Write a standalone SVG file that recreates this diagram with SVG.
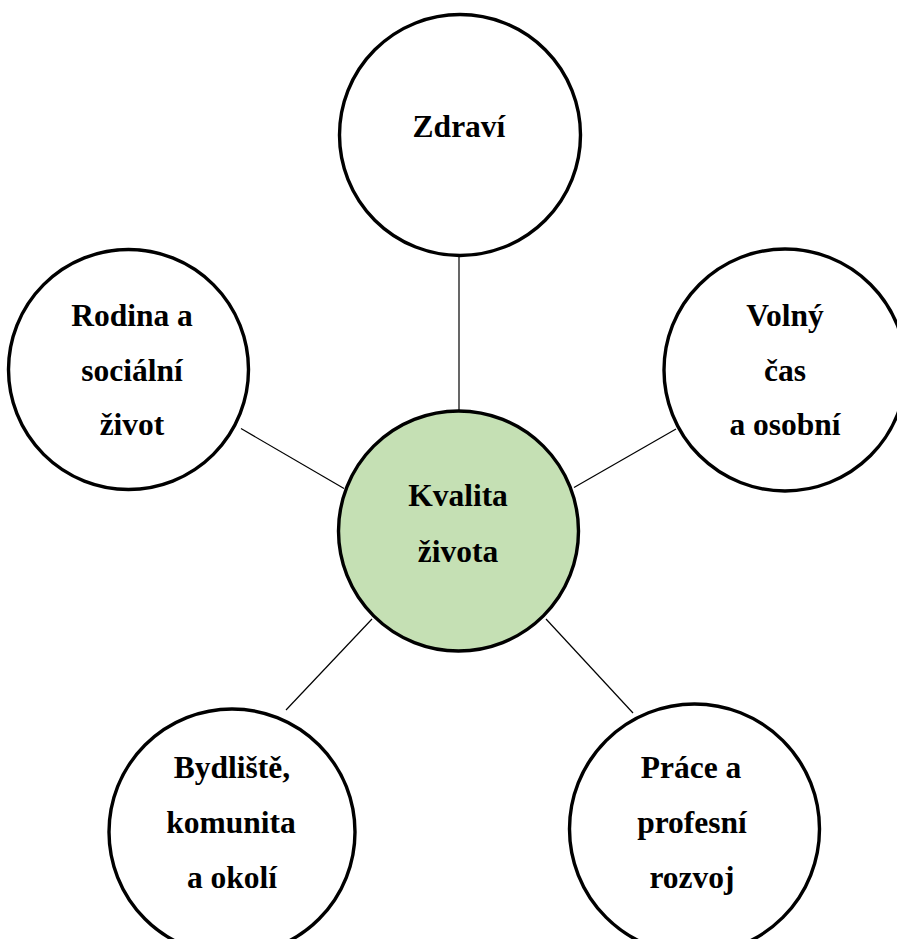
<svg xmlns="http://www.w3.org/2000/svg" width="897" height="939" viewBox="0 0 897 939">
  <style>
    .node { fill: #ffffff; stroke: #000000; stroke-width: 3.4; }
    .center { fill: #c5e0b4; stroke: #000000; stroke-width: 3.4; }
    .lbl { font-family: "Liberation Serif", "Times New Roman", serif; font-weight: bold; font-size: 31.5px; fill: #000000; text-anchor: middle; }
    .conn line { stroke: #000000; stroke-width: 1.2; }
  </style>
  <rect width="897" height="939" fill="#ffffff"/>
  <g id="connectors" class="conn">
    <line x1="459" y1="257" x2="459" y2="411"/>
    <line x1="241" y1="428.5" x2="344" y2="488.5"/>
    <line x1="574" y1="487.5" x2="676" y2="429"/>
    <line x1="372" y1="619" x2="286" y2="710"/>
    <line x1="546" y1="619" x2="633" y2="713"/>
  </g>
  <g id="node-zdravi">
    <circle class="node" cx="460" cy="135" r="120.5"/>
    <text class="lbl" x="459" y="137">Zdraví</text>
  </g>
  <g id="node-rodina">
    <circle class="node" cx="128.5" cy="369.5" r="120"/>
    <text class="lbl" x="132" y="326">Rodina a</text>
    <text class="lbl" x="132" y="381">sociální</text>
    <text class="lbl" x="132" y="435">život</text>
  </g>
  <g id="node-volny">
    <circle class="node" cx="785" cy="370" r="121"/>
    <text class="lbl" x="785" y="326">Volný</text>
    <text class="lbl" x="785" y="381">čas</text>
    <text class="lbl" x="785" y="435">a osobní</text>
  </g>
  <g id="node-kvalita">
    <circle class="center" cx="458.5" cy="531" r="120"/>
    <text class="lbl" x="458" y="506">Kvalita</text>
    <text class="lbl" x="458" y="562">života</text>
  </g>
  <g id="node-bydliste">
    <circle class="node" cx="232" cy="832" r="123"/>
    <text class="lbl" x="232" y="778">Bydliště,</text>
    <text class="lbl" x="231" y="833">komunita</text>
    <text class="lbl" x="232" y="888">a okolí</text>
  </g>
  <g id="node-prace">
    <circle class="node" cx="694.5" cy="829" r="125"/>
    <text class="lbl" x="691" y="778">Práce a</text>
    <text class="lbl" x="692" y="833">profesní</text>
    <text class="lbl" x="692" y="888">rozvoj</text>
  </g>
</svg>
